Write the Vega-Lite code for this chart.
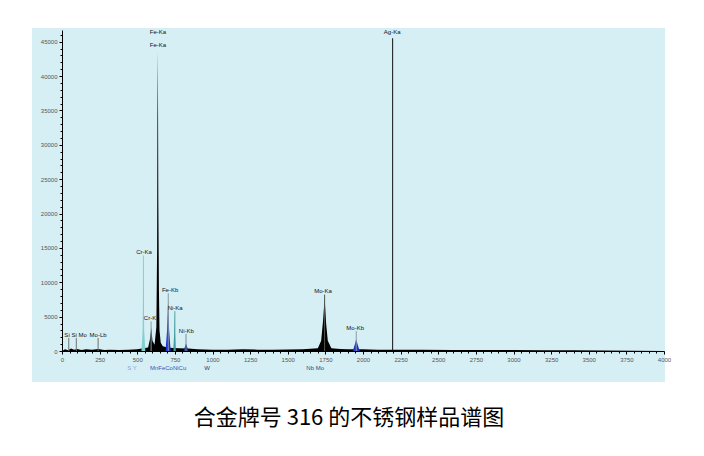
{
  "$schema": "https://vega.github.io/schema/vega-lite/v6.json",
  "width": 602,
  "height": 321,
  "autosize": "none",
  "padding": {"left": 62, "top": 30, "right": 40, "bottom": 105},
  "background": "white",
  "config": {
    "view": {"stroke": null},
    "axis": {"grid": false, "domainColor": "black", "tickColor": "black", "labelColor": "#555555", "labelFont": "Liberation Sans", "labelFontSize": 6, "title": null}
  },
  "title": {"text": "合金牌号 316 的不锈钢样品谱图", "orient": "bottom", "anchor": "middle", "font": "Noto Sans CJK SC", "fontSize": 22, "fontWeight": "normal", "color": "black", "offset": 26, "dx": -14},
  "datasets": {
    "spectrum": [
      {"ch": 0, "counts": 0}, {"ch": 20, "counts": 250}, {"ch": 40, "counts": 120}, {"ch": 60, "counts": 350}, {"ch": 80, "counts": 180}, {"ch": 100, "counts": 300}, {"ch": 130, "counts": 150}, {"ch": 160, "counts": 250}, {"ch": 200, "counts": 180}, {"ch": 240, "counts": 300}, {"ch": 280, "counts": 150}, {"ch": 320, "counts": 200}, {"ch": 380, "counts": 150}, {"ch": 440, "counts": 200}, {"ch": 500, "counts": 250}, {"ch": 540, "counts": 400}, {"ch": 572, "counts": 500}, {"ch": 585, "counts": 1800}, {"ch": 593, "counts": 3400}, {"ch": 601, "counts": 1500}, {"ch": 615, "counts": 900}, {"ch": 627, "counts": 3500}, {"ch": 632, "counts": 15000}, {"ch": 634, "counts": 34000}, {"ch": 637, "counts": 43600}, {"ch": 640, "counts": 22000}, {"ch": 644, "counts": 9000}, {"ch": 648, "counts": 3000}, {"ch": 656, "counts": 1200}, {"ch": 670, "counts": 700}, {"ch": 700, "counts": 500}, {"ch": 740, "counts": 450}, {"ch": 780, "counts": 400}, {"ch": 840, "counts": 350}, {"ch": 900, "counts": 250}, {"ch": 1000, "counts": 200}, {"ch": 1100, "counts": 200}, {"ch": 1200, "counts": 250}, {"ch": 1300, "counts": 200}, {"ch": 1400, "counts": 200}, {"ch": 1500, "counts": 220}, {"ch": 1600, "counts": 250}, {"ch": 1700, "counts": 400}, {"ch": 1722, "counts": 1500}, {"ch": 1735, "counts": 4500}, {"ch": 1745, "counts": 7700}, {"ch": 1755, "counts": 4000}, {"ch": 1766, "counts": 1500}, {"ch": 1790, "counts": 400}, {"ch": 1850, "counts": 300}, {"ch": 1900, "counts": 250}, {"ch": 2000, "counts": 250}, {"ch": 2100, "counts": 200}, {"ch": 2200, "counts": 200}, {"ch": 2400, "counts": 180}, {"ch": 2600, "counts": 150}, {"ch": 2800, "counts": 150}, {"ch": 3000, "counts": 130}, {"ch": 3200, "counts": 120}, {"ch": 3400, "counts": 100}, {"ch": 3600, "counts": 80}, {"ch": 3800, "counts": 50}, {"ch": 4000, "counts": 0}
    ],
    "peaks": [
      {"el": "Cr-Ka", "ch": 528, "counts": 0}, {"el": "Cr-Ka", "ch": 536, "counts": 3000}, {"el": "Cr-Ka", "ch": 541, "counts": 13300}, {"el": "Cr-Ka", "ch": 546, "counts": 3000}, {"el": "Cr-Ka", "ch": 554, "counts": 0},
      {"el": "Fe-Kb", "ch": 688, "counts": 0}, {"el": "Fe-Kb", "ch": 698, "counts": 3000}, {"el": "Fe-Kb", "ch": 705, "counts": 7300}, {"el": "Fe-Kb", "ch": 712, "counts": 3000}, {"el": "Fe-Kb", "ch": 722, "counts": 0},
      {"el": "Ni-Ka", "ch": 740, "counts": 0}, {"el": "Ni-Ka", "ch": 745, "counts": 2500}, {"el": "Ni-Ka", "ch": 748, "counts": 5900}, {"el": "Ni-Ka", "ch": 751, "counts": 2500}, {"el": "Ni-Ka", "ch": 756, "counts": 0},
      {"el": "Ni-Kb", "ch": 808, "counts": 0}, {"el": "Ni-Kb", "ch": 818, "counts": 700}, {"el": "Ni-Kb", "ch": 824, "counts": 1100}, {"el": "Ni-Kb", "ch": 830, "counts": 700}, {"el": "Ni-Kb", "ch": 840, "counts": 0},
      {"el": "Mo-Kb", "ch": 1932, "counts": 0}, {"el": "Mo-Kb", "ch": 1945, "counts": 900}, {"el": "Mo-Kb", "ch": 1955, "counts": 1700}, {"el": "Mo-Kb", "ch": 1965, "counts": 900}, {"el": "Mo-Kb", "ch": 1978, "counts": 0}
    ],
    "markers": [
      {"el": "Ag-Ka", "ch": 2197, "top": 45500},
      {"el": "Cr-Ka", "ch": 541, "top": 13900},
      {"el": "Cr-K", "ch": 592, "top": 4300},
      {"el": "Fe-Kb", "ch": 706, "top": 8400},
      {"el": "Ni-Ka", "ch": 750, "top": 5800},
      {"el": "Ni-Kb", "ch": 824, "top": 2500},
      {"el": "Mo-Ka", "ch": 1745, "top": 8200},
      {"el": "Mo-Kb", "ch": 1955, "top": 2900},
      {"el": "Si", "ch": 45, "top": 1900},
      {"el": "Si", "ch": 95, "top": 1900},
      {"el": "Mo-Lb", "ch": 240, "top": 1900}
    ],
    "labels": [
      {"label": "Fe-Ka", "ch": 638, "counts": 46400},
      {"label": "Fe-Ka", "ch": 638, "counts": 44500},
      {"label": "Ag-Ka", "ch": 2194, "counts": 46400},
      {"label": "Cr-Ka", "ch": 545, "counts": 14400},
      {"label": "Cr-K", "ch": 585, "counts": 4800},
      {"label": "Fe-Kb", "ch": 718, "counts": 8900},
      {"label": "Ni-Ka", "ch": 752, "counts": 6250},
      {"label": "Ni-Kb", "ch": 826, "counts": 2900},
      {"label": "Mo-Ka", "ch": 1735, "counts": 8730},
      {"label": "Mo-Kb", "ch": 1948, "counts": 3350},
      {"label": "Si Si Mo", "ch": 90, "counts": 2330},
      {"label": "Mo-Lb", "ch": 240, "counts": 2330}
    ],
    "elements": [
      {"label": "S  Y", "ch": 465},
      {"label": "MnFeCoNiCu", "ch": 705},
      {"label": "W", "ch": 964},
      {"label": "Nb  Mo", "ch": 1682}
    ]
  },
  "resolve": {"scale": {"color": "independent"}, "axis": {"x": "independent", "y": "independent"}},
  "layer": [
    {
      "data": {"values": [{}]},
      "mark": {"type": "rect", "color": "#d6eff5"},
      "encoding": {
        "x": {"datum": -200, "type": "quantitative", "scale": {"domain": [0, 4000], "nice": false, "zero": false},
              "axis": {"orient": "bottom", "zindex": 1, "values": [0,50,100,150,200,300,350,400,450,550,600,650,700,800,850,900,950,1050,1100,1150,1200,1300,1350,1400,1450,1550,1600,1650,1700,1800,1850,1900,1950,2050,2100,2150,2200,2300,2350,2400,2450,2550,2600,2650,2700,2800,2850,2900,2950,3050,3100,3150,3200,3300,3350,3400,3450,3550,3600,3650,3700,3800,3850,3900,3950], "labels": false, "domain": false, "tickSize": 2}},
        "x2": {"datum": 4007},
        "y": {"datum": -4500, "type": "quantitative", "scale": {"domain": [0, 46700], "nice": false, "zero": false},
              "axis": {"orient": "left", "zindex": 1, "values": [1000,2000,3000,4000,6000,7000,8000,9000,11000,12000,13000,14000,16000,17000,18000,19000,21000,22000,23000,24000,26000,27000,28000,29000,31000,32000,33000,34000,36000,37000,38000,39000,41000,42000,43000,44000,46000], "labels": false, "domain": false, "tickSize": 2}},
        "y2": {"datum": 47000}
      }
    },
    {
      "data": {"name": "spectrum"},
      "mark": {"type": "area", "color": "black", "interpolate": "linear"},
      "encoding": {
        "x": {"field": "ch", "type": "quantitative", "scale": {"domain": [0, 4000], "nice": false, "zero": false},
              "axis": {"orient": "bottom", "zindex": 1, "values": [0,250,500,750,1000,1250,1500,1750,2000,2250,2500,2750,3000,3250,3500,3750,4000], "format": "d", "tickSize": 3, "labelPadding": 2, "labelFlush": false}},
        "y": {"field": "counts", "type": "quantitative", "stack": null, "scale": {"domain": [0, 46700], "nice": false, "zero": false},
              "axis": {"orient": "left", "zindex": 1, "values": [0,5000,10000,15000,20000,25000,30000,35000,40000,45000], "format": "d", "tickSize": 3, "labelPadding": 2}}
      }
    },
    {
      "data": {"name": "peaks"},
      "mark": {"type": "area", "interpolate": "linear"},
      "encoding": {
        "x": {"field": "ch", "type": "quantitative", "scale": {"domain": [0, 4000], "nice": false, "zero": false}, "axis": null},
        "y": {"field": "counts", "type": "quantitative", "stack": null, "scale": {"domain": [0, 46700], "nice": false, "zero": false}, "axis": null},
        "color": {"field": "el", "type": "nominal", "legend": null,
                  "scale": {"domain": ["Cr-Ka", "Fe-Kb", "Ni-Ka", "Ni-Kb", "Mo-Kb"], "range": ["#86cfcf", "#1830d8", "#208890", "#1a2b7a", "#2030c0"]}}
      }
    },
    {
      "data": {"name": "markers"},
      "mark": {"type": "rule", "strokeWidth": 1},
      "encoding": {
        "x": {"field": "ch", "type": "quantitative", "scale": {"domain": [0, 4000], "nice": false, "zero": false}, "axis": null},
        "y": {"field": "top", "type": "quantitative", "scale": {"domain": [0, 46700], "nice": false, "zero": false}, "axis": null},
        "y2": {"datum": 0},
        "color": {"field": "el", "type": "nominal", "legend": null,
                  "scale": {"domain": ["Ag-Ka", "Cr-Ka", "Cr-K", "Fe-Kb", "Ni-Ka", "Ni-Kb", "Mo-Ka", "Mo-Kb", "Si", "Mo-Lb"], "range": ["#111111", "#86cfcf", "#8a9a9a", "#8a9a9a", "#5aa8a8", "#7a8aa0", "#555555", "#8a9aaa", "#707070", "#707070"]}}
      }
    },
    {
      "data": {"name": "labels"},
      "mark": {"type": "text", "font": "Liberation Sans", "fontSize": 6, "color": "#111111", "baseline": "middle", "align": "center"},
      "encoding": {
        "x": {"field": "ch", "type": "quantitative", "scale": {"domain": [0, 4000], "nice": false, "zero": false}, "axis": null},
        "y": {"field": "counts", "type": "quantitative", "scale": {"domain": [0, 46700], "nice": false, "zero": false}, "axis": null},
        "text": {"field": "label"}
      }
    },
    {
      "data": {"name": "elements"},
      "mark": {"type": "text", "font": "Liberation Sans", "fontSize": 6, "baseline": "middle", "align": "center"},
      "encoding": {
        "x": {"field": "ch", "type": "quantitative", "scale": {"domain": [0, 4000], "nice": false, "zero": false}, "axis": null},
        "y": {"datum": -2470, "type": "quantitative", "scale": {"domain": [0, 46700], "nice": false, "zero": false}, "axis": null},
        "text": {"field": "label"},
        "color": {"field": "label", "type": "nominal", "legend": null,
                  "scale": {"domain": ["S  Y", "MnFeCoNiCu", "W", "Nb  Mo"], "range": ["#8aa0e0", "#4050b8", "#303870", "#404870"]}}
      }
    }
  ]
}
